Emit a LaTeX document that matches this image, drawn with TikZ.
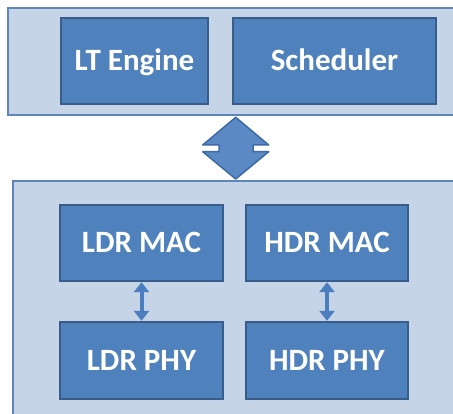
\documentclass[tikz,border=0pt]{standalone}
\usepackage{fontspec}
\setmainfont{Carlito}
\usetikzlibrary{arrows.meta,calc}
\definecolor{panelfill}{HTML}{C6D4E8}
\definecolor{panelline}{HTML}{5F86BB}
\definecolor{boxfill}{HTML}{4F81BD}
\definecolor{boxline}{HTML}{385D8A}
\definecolor{linkfill}{HTML}{5B89C4}
\definecolor{linkline}{HTML}{3C6AA6}
\definecolor{arrowcol}{HTML}{4A7EBF}
\tikzset{
  block/.style={draw=boxline, line width=2.4pt, fill=boxfill, text=white,
    font=\fontsize{31}{32}\selectfont\bfseries, inner sep=0pt,
    text height=19.5pt, text depth=0pt},
  vlink/.style={arrowcol, line width=4pt,
    {Triangle[width=15pt,length=10pt]}-{Triangle[width=15pt,length=10pt]}},
}
\begin{document}
\begin{tikzpicture}[x=1pt,y=-1pt]
\useasboundingbox (0,0) rectangle (453,414);

% upper layer panel
\fill[panelfill] (8,8) rectangle (453,115);
\draw[panelline, line width=1.3pt] (453,8) -- (8,8) -- (8,115) -- (453,115);

% lower layer panel
\fill[panelfill] (13,181) rectangle (453,414);
\draw[panelline, line width=1.3pt] (453,181) -- (13,181) -- (13,414);

% upper blocks
\node[block, minimum width=147pt, minimum height=86pt] (lt) at (134.5,61) {LT Engine};
\node[block, minimum width=203pt, minimum height=86pt] (sch) at (334.5,61) {Scheduler};

% lower blocks
\node[block, minimum width=163pt, minimum height=76pt] (ldrmac) at (141.5,243) {LDR MAC};
\node[block, minimum width=162pt, minimum height=76pt] (hdrmac) at (327,243) {HDR MAC};
\node[block, minimum width=163pt, minimum height=77pt] (ldrphy) at (141.5,360.5) {LDR PHY};
\node[block, minimum width=162pt, minimum height=77pt] (hdrphy) at (327,360.5) {HDR PHY};

% double-headed link between the two layers
\coordinate (lnk) at (235.7,148.3);
\draw[linkline, fill=linkfill, line width=1.5pt, line join=round]
  ($(lnk)+(0,-31)$) -- ++(33,27.7) -- ++(-15.5,0) -- ++(0,6.7) -- ++(15.5,0)
  -- ($(lnk)+(0,30.7)$) -- ++(-33,-27.3) -- ++(16.5,0) -- ++(0,-6.7) -- ++(-16.5,0) -- cycle;

% MAC/PHY links
\draw[vlink] (ldrmac.south) -- (ldrphy.north);
\draw[vlink] (hdrmac.south) -- (hdrphy.north);
\end{tikzpicture}
\end{document}
